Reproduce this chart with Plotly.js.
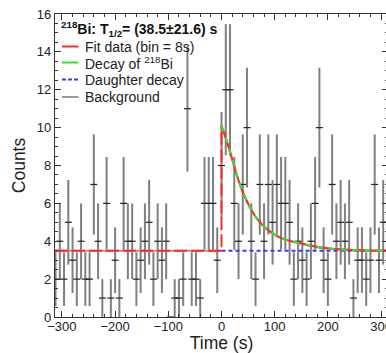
<!DOCTYPE html>
<html>
<head>
<meta charset="utf-8">
<script src="https://cdn.plot.ly/plotly-3.0.1.min.js"></script>
<style>
html, body { margin: 0; padding: 0; width: 386px; height: 353px; overflow: hidden; background: #fff; }
#chart { width: 392px; height: 353px; }
</style>
</head>
<body>
<div id="chart"></div>
<script>
// Bin centres (s), bin width 8 s
var times = [-312,-304,-296,-288,-280,-272,-264,-256,-248,-240,-232,-224,-216,-208,-200,-192,-184,-176,-168,-160,
             -152,-144,-136,-128,-120,-112,-104,-96,-88,-80,-72,-64,-56,-48,-40,-32,-24,-16,-8,
             0,8,16,24,32,40,48,56,64,72,80,88,96,104,112,120,128,136,144,152,160,
             168,176,184,192,200,208,216,224,232,240,248,256,264,272,280,288,296,304,312];
// Counts per bin
var counts = [2,4,2,5,3,2,4,2,2,7,4,1,6,1,3,1,6,4,4,2,
              3,4,5,2,4,3,4,0,1,1,2,11,2,2,1,6,6,6,3,
              8,12,12,6,4,7,10,4,2,7,4,7,5,7,6,6,5,2,4,3,2,
              4,6,10,3,2,7,4,5,4,5,1,3,3,2,3,7,3,5,5];
// Fit components
var bgLevel = 3.5;
var bgT = [-313, 0];
var stepT = [-313, 0, 0];
var stepY = [bgLevel, bgLevel, 10.1];
var decayT = [0, 12, 22, 31, 40, 50, 59, 68, 87, 106, 124, 147, 165, 184, 208, 240, 280, 313];
var decayY = [10.1, 9.1, 8.15, 7.3, 6.6, 5.98, 5.52, 5.14, 4.6, 4.25, 4.05, 3.9, 3.78, 3.68, 3.6, 3.54, 3.51, 3.5];
var daughterT = [0, 313];
var xTicks = [-300, -200, -100, 0, 100, 200, 300];

var errs = counts.map(function (c) { return Math.sqrt(c); });

var FONT = 'Liberation Sans, Arial, Helvetica, sans-serif';
var RED = '#ff2a2a', GREEN = '#2ee62e', BLUE = '#3a3aff', GRAY = '#9a9a9a';

var traces = [
  {
    x: times, y: counts, type: 'scatter', mode: 'markers',
    marker: { symbol: 'line-ew', size: 5, color: '#222', line: { width: 1.2, color: '#222' } },
    error_y: { type: 'data', array: errs, visible: true, color: '#808080', thickness: 2, width: 0 },
    hoverinfo: 'skip', showlegend: false
  },
  { x: bgT, y: [bgLevel, bgLevel], mode: 'lines', line: { color: GRAY, width: 2 }, showlegend: false },
  { x: stepT, y: stepY, mode: 'lines', line: { color: RED, width: 2, dash: '13px,4px' }, showlegend: false },
  { x: daughterT, y: [bgLevel, bgLevel], mode: 'lines', line: { color: BLUE, width: 2, dash: '4px,3px' }, showlegend: false },
  { x: decayT, y: decayY, mode: 'lines', line: { color: RED, width: 2.2, shape: 'spline', smoothing: 0.6 }, showlegend: false },
  { x: decayT, y: decayY, mode: 'lines', line: { color: GREEN, width: 2.2, dash: '6px,6px', shape: 'spline', smoothing: 0.6 }, showlegend: false }
];

function px(x) { return (x - 55) / 333; }
function py(y) { return (317 - y) / 303; }

var rows = [
  { y: 46.5, text: 'Fit data (bin = 8s)', color: RED, dash: 'solid' },
  { y: 62.5, text: 'Decay of <sup>218</sup>Bi', color: GREEN, dash: 'solid' },
  { y: 79.5, text: 'Daughter decay', color: BLUE, dash: '4px,2px' },
  { y: 97, text: 'Background', color: GRAY, dash: 'solid' }
];

var shapes = rows.map(function (r) {
  return { type: 'line', xref: 'paper', yref: 'paper', x0: px(62), x1: px(78.5), y0: py(r.y), y1: py(r.y),
           line: { color: r.color, width: 2, dash: r.dash } };
});
var annotations = rows.map(function (r) {
  return { xref: 'paper', yref: 'paper', x: px(83), y: py(r.y), xanchor: 'left', yanchor: 'middle',
           text: r.text, showarrow: false, font: { family: FONT, size: 14, color: '#222' } };
});
annotations.push({ xref: 'paper', yref: 'paper', x: px(59), y: py(29), xanchor: 'left', yanchor: 'middle',
  text: '<b><sup>218</sup>Bi: T<sub>1/2</sub>= (38.5±21.6) s</b>', showarrow: false,
  font: { family: FONT, size: 14, color: '#111' } });

var axisCommon = {
  showline: true, linecolor: '#333', linewidth: 1.2, mirror: 'allticks',
  ticks: 'inside', ticklen: 6, tickwidth: 1, tickcolor: '#333',
  showgrid: false, zeroline: false,
  tickfont: { family: FONT, size: 13, color: '#222' }
};

var layout = {
  width: 392, height: 353,
  margin: { l: 55, r: 4, t: 14, b: 36 },
  paper_bgcolor: '#fff', plot_bgcolor: '#fff',
  showlegend: false,
  xaxis: Object.assign({}, axisCommon, {
    range: [-313, 313], tickmode: 'array', tickvals: xTicks,
    ticklabelstandoff: -3,
    minor: { tick0: 0, dtick: 20, ticks: 'inside', ticklen: 3, tickcolor: '#333', tickwidth: 1 },
    title: { text: 'Time (s)', font: { family: FONT, size: 17.5, color: '#222' }, standoff: 0 }
  }),
  yaxis: Object.assign({}, axisCommon, {
    range: [0, 16], tick0: 0, dtick: 2,
    minor: { tick0: 0, dtick: 0.5, ticks: 'inside', ticklen: 3, tickcolor: '#333', tickwidth: 1 },
    title: { text: 'Counts', font: { family: FONT, size: 17.5, color: '#222' }, standoff: 6 }
  }),
  shapes: shapes,
  annotations: annotations
};

Plotly.newPlot('chart', traces, layout, { displayModeBar: false, staticPlot: true });
</script>
</body>
</html>
